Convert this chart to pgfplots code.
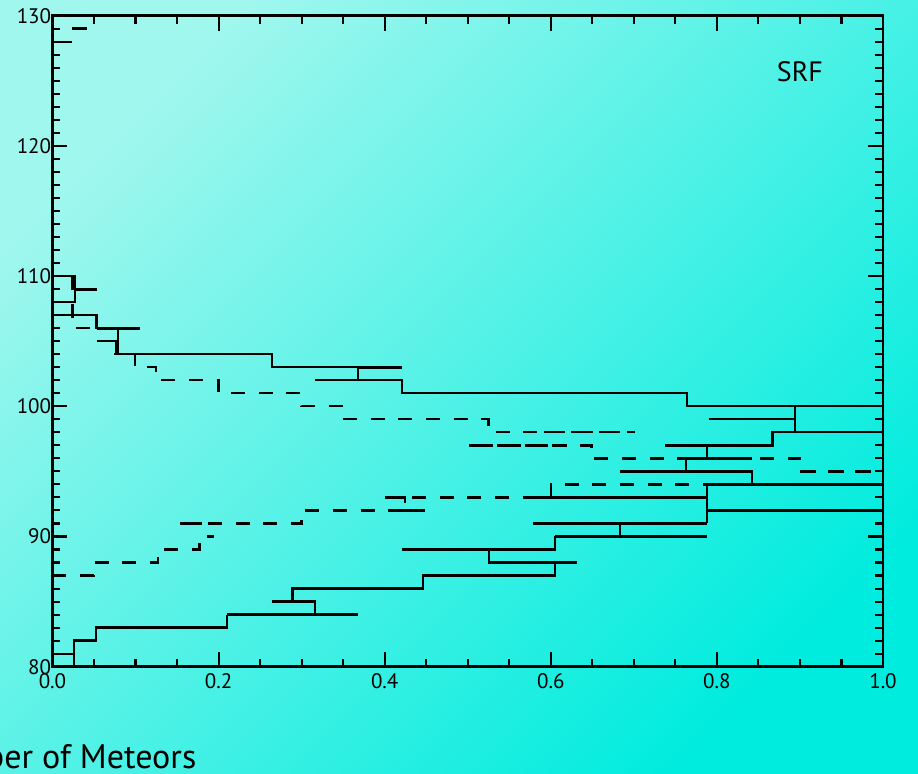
\documentclass[border=0pt]{standalone}
\usepackage{pgfplots}
\pgfplotsset{compat=1.18}
\usepackage{fontspec}
\setmainfont{PT Sans}
\definecolor{bgA}{RGB}{160,247,238}
\definecolor{bgB}{RGB}{0,236,222}
\begin{document}
\begin{tikzpicture}
\shade[top color=bgA, bottom color=bgB, shading angle=45] (-26.25pt,-53.65pt) rectangle (432.75pt,333.35pt);
\begin{axis}[
  at={(0,0)}, anchor=south west,
  scale only axis, width=415.25pt, height=325.5pt,
  xmin=0, xmax=1, ymin=80, ymax=130,
  clip=false,
  xtick={0,0.2,0.4,0.6,0.8,1},
  ytick={80,90,100,110,120,130},
  yticklabels={80,90,100,\raisebox{-6.5pt}{110},120,130},
  minor x tick num=3, minor y tick num=9,
  tick align=inside,
  major tick length=7.5pt, minor tick length=4pt,
  axis line style={line width=1.25pt},
  tick style={line width=1.05pt, black},
  /pgf/number format/assume math mode=true,
  ticklabel style={font=\fontsize{10.5}{12}\selectfont},
  yticklabel style={inner sep=0.5pt},
  xticklabel style={/pgf/number format/.cd, fixed, fixed zerofill, precision=1},
  xlabel={Number of Meteors},
  xlabel style={at={(rel axis cs:0,0)}, anchor=base east, inner sep=0pt, xshift=72.1pt, yshift=-50.8pt, font=\fontsize{17}{19}\selectfont},
  sol/.style={black, line width=1.15pt, no markers},
  bsol/.style={black, line width=1.6pt, no markers},
  das/.style={black, line width=1.15pt, no markers, dash pattern=on 7pt off 6.8pt},
  dasb/.style={black, line width=1.15pt, no markers, dash pattern=on 7pt off 6.8pt, dash phase=9pt},
]
% ---- solid, upper part
\addplot[sol] coordinates {(0,107) (0,110) (0.027,110) (0.027,108) (0,108)};
\addplot[bsol] coordinates {(0.027,109) (0.053,109)};
\addplot[sol] coordinates {(0,107) (0.053,107) (0.053,106) (0.105,106)};
\addplot[bsol] coordinates {(0.053,106) (0.105,106)};
\addplot[sol] coordinates {(0.053,105) (0.079,105)};
\addplot[sol] coordinates {(0.079,106) (0.079,104)};
\addplot[sol] coordinates {(0.0745,104) (0.264,104) (0.264,103) (0.421,103)};
\addplot[bsol] coordinates {(0.368,103) (0.421,103)};
\addplot[sol] coordinates {(0.368,103) (0.368,102)};
\addplot[sol] coordinates {(0.316,102) (0.421,102) (0.421,101) (0.764,101) (0.764,100) (1,100)};
\addplot[sol] coordinates {(0.894,100) (0.894,98)};
\addplot[sol] coordinates {(0.79,99) (0.894,99)};
\addplot[sol] coordinates {(1,98) (0.867,98) (0.867,97) (0.737,97)};
\addplot[sol] coordinates {(0.788,97) (0.788,96)};
\addplot[sol] coordinates {(0.762,96) (0.842,96)};
\addplot[sol] coordinates {(0.763,96) (0.763,95)};
\addplot[sol] coordinates {(0.683,95) (0.842,95) (0.842,94)};
% ---- solid, lower part
\addplot[sol] coordinates {(0.788,94) (1,94)};
\addplot[sol] coordinates {(0.579,93) (0.788,93)};
\addplot[sol] coordinates {(0.788,91) (0.788,94)};
\addplot[sol] coordinates {(0.788,92) (1,92)};
\addplot[sol] coordinates {(0.579,91) (0.788,91)};
\addplot[sol] coordinates {(0.683,91) (0.683,90)};
\addplot[sol] coordinates {(0.605,90) (0.788,90)};
\addplot[sol] coordinates {(0.605,90) (0.605,89) (0.421,89)};
\addplot[sol] coordinates {(0.526,89) (0.526,88) (0.631,88)};
\addplot[sol] coordinates {(0.605,88) (0.605,87) (0.4465,87) (0.4465,86) (0.289,86) (0.289,85)};
\addplot[sol] coordinates {(0.264,85) (0.316,85) (0.316,84)};
\addplot[sol] coordinates {(0.2105,84) (0.368,84)};
\addplot[sol] coordinates {(0.2105,84) (0.2105,83) (0.052,83) (0.052,82) (0.026,82) (0.026,80)};
\addplot[sol] coordinates {(0,81) (0.026,81)};
\addplot[bsol] coordinates {(0.026,80) (0.052,80)};
% ---- short pieces at the top
\addplot[bsol] coordinates {(0.024,129) (0.042,129)};
\addplot[sol] coordinates {(0,128) (0.023,128)};
% ---- dashed, upper
\addplot[das] coordinates {(0.024,110) (0.024,106) (0.077,106) (0.077,104) (0.099,104) (0.099,103) (0.125,103) (0.125,102) (0.2,102) (0.2,101) (0.3,101) (0.3,100) (0.349,100) (0.349,99) (0.525,99) (0.525,98) (0.70,98)};
\addplot[dasb] coordinates {(0.58,98) (0.70,98)};
\addplot[das] coordinates {(0.502,97) (0.649,97) (0.649,96) (0.90,96) (0.90,95) (1,95)};
\addplot[dasb] coordinates {(0.502,97) (0.62,97)};
% ---- dashed, lower
\addplot[das] coordinates {(0,87) (0.05,87) (0.05,88) (0.127,88) (0.127,89) (0.177,89) (0.177,90) (0.195,90)};
\addplot[das] coordinates {(0.154,91) (0.30,91) (0.30,92) (0.449,92)};
\addplot[sol] coordinates {(0.154,91) (0.18,91)};
\addplot[sol] coordinates {(0.416,92) (0.449,92)};
\addplot[das] coordinates {(0.40,93) (0.6,93) (0.6,94) (0.90,94) (0.90,95) (1,95)};
\addplot[sol] coordinates {(0.40,93) (0.4245,93) (0.4245,92.6)};
\node[font=\fontsize{14}{16}\selectfont] at (axis cs:0.9,125.7) {SRF};
\end{axis}
\pgfresetboundingbox
\path (-26.25pt,-53.65pt) rectangle (432.75pt,333.35pt);
\end{tikzpicture}
\end{document}
